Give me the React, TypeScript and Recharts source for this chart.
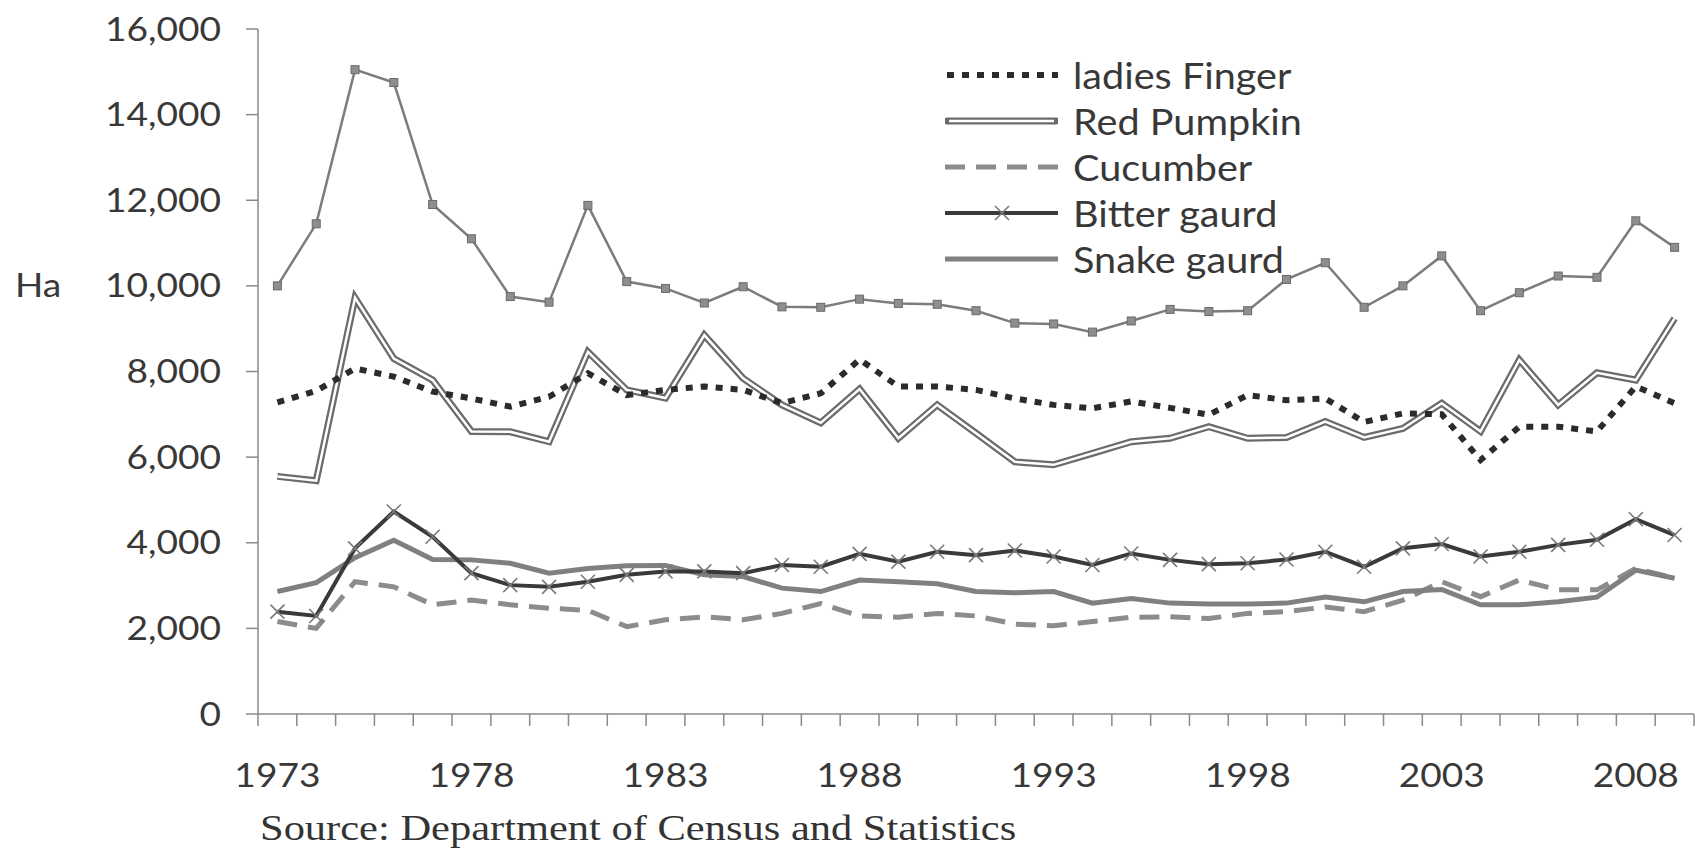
import { LineChart, Line, XAxis, YAxis } from 'recharts';

// areas in hectares, 1973-2009
const years = [
  1973, 1974, 1975, 1976, 1977, 1978, 1979, 1980, 1981, 1982,
  1983, 1984, 1985, 1986, 1987, 1988, 1989, 1990, 1991, 1992,
  1993, 1994, 1995, 1996, 1997, 1998, 1999, 2000, 2001, 2002,
  2003, 2004, 2005, 2006, 2007, 2008, 2009,
];

// top line with square markers (no legend entry in the original)
const unlabeledSeries = [
  10000, 11450, 15050, 14750, 11900, 11100, 9750, 9620, 11880, 10100,
  9940, 9600, 9980, 9510, 9500, 9690, 9590, 9570, 9420, 9130,
  9110, 8920, 9180, 9450, 9400, 9420, 10150, 10540, 9500, 10000,
  10700, 9420, 9840, 10230, 10200, 11520, 10900,
];

const ladiesFinger = [
  7280, 7550, 8070, 7880, 7530, 7370, 7180, 7410, 7960, 7450,
  7570, 7650, 7570, 7260, 7490, 8280, 7650, 7650, 7570, 7370,
  7220, 7140, 7300, 7150, 6990, 7450, 7330, 7370, 6820, 7020,
  7000, 5930, 6710, 6710, 6600, 7650, 7260,
];

const redPumpkin = [
  5550, 5450, 9720, 8300, 7800, 6600, 6590, 6360, 8460, 7570,
  7380, 8850, 7840, 7220, 6800, 7590, 6440, 7220, 6560, 5890,
  5820, 6090, 6360, 6440, 6710, 6440, 6460, 6830, 6460, 6670,
  7260, 6600, 8270, 7220, 7970, 7800, 9240,
];

const cucumber = [
  2160, 2000, 3090, 2970, 2550, 2660, 2550, 2470, 2420, 2040,
  2200, 2270, 2200, 2350, 2580, 2290, 2260, 2350, 2290, 2100,
  2060, 2160, 2260, 2270, 2230, 2350, 2390, 2500, 2390, 2660,
  3090, 2740, 3130, 2900, 2900, 3400, 3170,
];

const bitterGaurd = [
  2390, 2290, 3870, 4730, 4140, 3290, 3010, 2970, 3090, 3250,
  3330, 3330, 3290, 3480, 3440, 3740, 3560, 3790, 3710, 3820,
  3680, 3480, 3750, 3600, 3500, 3520, 3610, 3790, 3440, 3870,
  3970, 3680, 3790, 3950, 4070, 4550, 4180,
];

const snakeGaurd = [
  2860, 3070, 3650, 4060, 3610, 3600, 3520, 3290, 3400, 3460,
  3470, 3250, 3210, 2940, 2860, 3130, 3090, 3040, 2860, 2830,
  2860, 2590, 2700, 2590, 2570, 2570, 2590, 2730, 2620, 2860,
  2910, 2550, 2550, 2620, 2730, 3360, 3170,
];

const labelYears = [1973, 1978, 1983, 1988, 1993, 1998, 2003, 2008];
const yTicks = [0, 2000, 4000, 6000, 8000, 10000, 12000, 14000, 16000];
const yMax = 16000;
const haLevel = 10000; // "Ha" sits next to this tick
const legendNames = ['ladies Finger', 'Red Pumpkin', 'Cucumber', 'Bitter gaurd', 'Snake gaurd'];

const data = years.map((year, i) => ({
  year,
  other: unlabeledSeries[i],
  ladies: ladiesFinger[i],
  pumpkin: redPumpkin[i],
  cucumber: cucumber[i],
  bitter: bitterGaurd[i],
  snake: snakeGaurd[i],
}));

// tick marks sit between the categories, labels on them
const tickEdges = years.map((y) => y - 0.5).concat(years[years.length - 1] + 0.5);
const xTicks = [...tickEdges, ...labelYears].sort((a, b) => a - b);

const FONT = 'Lato, "Open Sans", sans-serif';
const TEXT = '#383838';
const AXIS = '#8a8a8a';
const STRETCH = 1.16; // the original text is a bit wider than Lato

function XTick(props: any) {
  const { x, y, payload } = props;
  const v = payload.value;
  if (!Number.isInteger(v)) {
    return <line x1={x} x2={x} y1={y} y2={y + 12} stroke={AXIS} strokeWidth={1.5} />;
  }
  return (
    <text
      transform={`translate(${x},${y + 61}) scale(${STRETCH},1)`}
      dy="0.36em"
      textAnchor="middle"
      fill={TEXT}
      fontSize={32}
      fontFamily={FONT}
    >
      {v}
    </text>
  );
}

function YTick(props: any) {
  const { x, y, payload } = props;
  return (
    <text
      transform={`translate(${x},${y}) scale(${STRETCH},1)`}
      dy="0.36em"
      textAnchor="end"
      fill={TEXT}
      fontSize={32}
      fontFamily={FONT}
    >
      {payload.value.toLocaleString('en-US')}
    </text>
  );
}

function HaLabel(props: any) {
  const { viewBox } = props;
  const y = viewBox.y + viewBox.height * (1 - haLevel / yMax);
  return (
    <text
      transform={`translate(15,${y}) scale(${STRETCH},1)`}
      dy="0.36em"
      textAnchor="start"
      fill={TEXT}
      fontSize={32}
      fontFamily={FONT}
    >
      Ha
    </text>
  );
}

function SquareDot(props: any) {
  const { cx, cy, index } = props;
  return <rect key={index} x={cx - 4} y={cy - 4} width={8} height={8} fill="#8e8e8e" stroke="#6a6a6a" strokeWidth={1} />;
}

function CrossDot(props: any) {
  const { cx, cy, index } = props;
  const s = 7;
  return (
    <path
      key={index}
      d={`M${cx - s},${cy - s}L${cx + s},${cy + s}M${cx - s},${cy + s}L${cx + s},${cy - s}`}
      stroke="#7a7a7a"
      strokeWidth={1.6}
      fill="none"
    />
  );
}

function LegendSample({ name }: { name: string }) {
  const w = 113;
  return (
    <svg width={w} height={20} style={{ display: 'block' }}>
      {name === 'ladies Finger' && (
        <line x1={2} x2={w} y1={10} y2={10} stroke="#2b2b2b" strokeWidth={6} strokeDasharray="7 8" />
      )}
      {name === 'Red Pumpkin' && (
        <>
          <line x1={2} x2={w - 2} y1={10} y2={10} stroke="#6b6b6b" strokeWidth={7} strokeLinecap="round" />
          <line x1={4} x2={w - 4} y1={10} y2={10} stroke="#fff" strokeWidth={2.5} />
        </>
      )}
      {name === 'Cucumber' && (
        <line x1={0} x2={w} y1={10} y2={10} stroke="#8c8c8c" strokeWidth={5} strokeDasharray="20 11" />
      )}
      {name === 'Bitter gaurd' && (
        <>
          <line x1={0} x2={w} y1={10} y2={10} stroke="#3a3a3a" strokeWidth={4} />
          <path d="M50,3L64,17M50,17L64,3" stroke="#7a7a7a" strokeWidth={1.6} />
        </>
      )}
      {name === 'Snake gaurd' && (
        <line x1={0} x2={w} y1={10} y2={10} stroke="#808080" strokeWidth={5} />
      )}
    </svg>
  );
}

export default function App() {
  return (
    <div style={{ position: 'absolute', left: 0, top: 0, width: 1700, height: 854, background: '#fff' }}>
      <LineChart width={1700} height={854} data={data} margin={{ top: 29, right: 6, bottom: 0, left: 0 }}>
        <XAxis
          dataKey="year"
          type="number"
          domain={[1972.5, 2009.5]}
          allowDataOverflow
          ticks={xTicks}
          interval={0}
          tick={<XTick />}
          tickLine={false}
          tickSize={0}
          tickMargin={0}
          height={140}
          axisLine={{ stroke: AXIS, strokeWidth: 1.5 }}
        />
        <YAxis
          width={258}
          domain={[0, yMax]}
          ticks={yTicks}
          interval={0}
          tickSize={12}
          tickMargin={25}
          tick={<YTick />}
          tickLine={{ stroke: AXIS, strokeWidth: 1.5 }}
          axisLine={{ stroke: AXIS, strokeWidth: 1.5 }}
          label={{ value: 'Ha', content: HaLabel }}
        />
        <Line dataKey="other" stroke="#7c7c7c" strokeWidth={2.5} dot={<SquareDot />} activeDot={false} isAnimationActive={false} />
        <Line dataKey="pumpkin" stroke="#6b6b6b" strokeWidth={7} dot={false} activeDot={false} isAnimationActive={false} />
        <Line dataKey="pumpkin" stroke="#ffffff" strokeWidth={2.5} dot={false} activeDot={false} isAnimationActive={false} />
        <Line dataKey="ladies" stroke="#2b2b2b" strokeWidth={6} strokeDasharray="7 8" dot={false} activeDot={false} isAnimationActive={false} />
        <Line dataKey="cucumber" stroke="#8c8c8c" strokeWidth={5} strokeDasharray="20 11" dot={false} activeDot={false} isAnimationActive={false} />
        <Line dataKey="snake" stroke="#808080" strokeWidth={5} dot={false} activeDot={false} isAnimationActive={false} />
        <Line dataKey="bitter" stroke="#3a3a3a" strokeWidth={4} dot={<CrossDot />} activeDot={false} isAnimationActive={false} />
      </LineChart>

      <div style={{ position: 'absolute', left: 945, top: 52, fontFamily: FONT, fontSize: 36, color: TEXT }}>
        {legendNames.map((name) => (
          <div key={name} style={{ display: 'flex', alignItems: 'center', height: 46 }}>
            <LegendSample name={name} />
            <span
              style={{
                marginLeft: 15,
                whiteSpace: 'nowrap',
                display: 'inline-block',
                transform: 'scaleX(1.1)',
                transformOrigin: 'left center',
              }}
            >
              {name}
            </span>
          </div>
        ))}
      </div>

      <div
        style={{
          position: 'absolute',
          left: 260,
          top: 810,
          fontFamily: '"Liberation Serif", "Times New Roman", serif',
          fontSize: 36,
          color: '#333',
          whiteSpace: 'nowrap',
          lineHeight: 1,
          transform: 'scaleX(1.18)',
          transformOrigin: 'left center',
        }}
      >
        Source: Department of Census and Statistics
      </div>
    </div>
  );
}
